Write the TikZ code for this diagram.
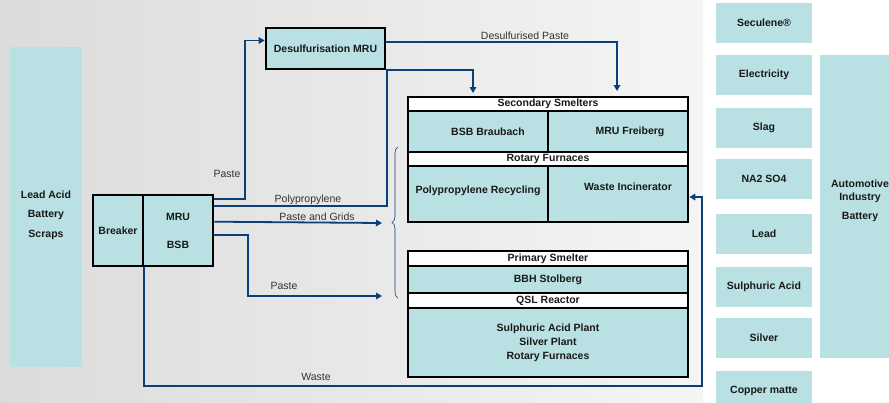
\documentclass[tikz,border=0pt]{standalone}
\usepackage{fontspec}
\setmainfont{Liberation Sans}
\usetikzlibrary{arrows.meta,decorations.pathreplacing}
\definecolor{boxblue}{HTML}{B9E0E3}
\definecolor{flowblue}{HTML}{0B3F78}
\definecolor{labelgray}{HTML}{333333}

\begin{document}
\begin{tikzpicture} [
				x=1pt, y=-1pt,
				every node/.style={inner sep=0pt, text=black!90},
				plant/.style={draw=black, line width=2.6pt, fill=boxblue, font=\fontsize{10.5}{12}\selectfont\bfseries, align=center},
				header/.style={plant, fill=white},
				product/.style={fill=boxblue, font=\fontsize{10.5}{12}\selectfont\bfseries, align=center, minimum width=96pt, minimum height=40pt},
				flow/.style={draw=flowblue, line width=1.8pt, -{Triangle[length=6pt,width=6.5pt]}},
				flowlabel/.style={font=\fontsize{10.5}{12}\selectfont, text=labelgray}
			]
			\useasboundingbox (0,0) rectangle (889,402);
			\shade[left color=black!14, right color=black!4] (0,0) rectangle (703,402);
			\fill[white] (703,0) rectangle (889,402);

			\node[product, minimum width=72pt, minimum height=320pt, text height=62.5pt, font=\fontsize{10.5}{19.5}\selectfont\bfseries] (scraps) at (46,207) {Lead Acid\\Battery\\Scraps};
			\node[plant, minimum width=50pt, minimum height=71pt] (breaker) at (118,230.5) {Breaker};
			\node[plant, minimum width=70pt, minimum height=71pt, font=\fontsize{10.5}{28}\selectfont\bfseries] (mru) at (178,230.5) {MRU\\BSB};
			\node[plant, minimum width=119pt, minimum height=41pt] (desulf) at (325.5,48.5) {Desulfurisation MRU};

			\node[header, minimum width=280pt, minimum height=14pt] (sechead) at (548,104) {Secondary Smelters};
			\node[plant, minimum width=140pt, minimum height=41pt] (braubach) at (478,131.5) {\hspace*{20pt}BSB Braubach};
			\node[plant, minimum width=140pt, minimum height=41pt] (freiberg) at (618,131.5) {\hspace*{24pt}MRU Freiberg};
			\node[header, minimum width=280pt, minimum height=14pt] (rotary) at (548,159) {Rotary Furnaces};
			\node[plant, minimum width=140pt, minimum height=56pt, text depth=9pt] (pprecycle) at (478,194) {Polypropylene Recycling};
			\node[plant, minimum width=140pt, minimum height=56pt, text depth=15pt] (incinerator) at (618,194) {\hspace*{20pt}Waste Incinerator};

			\node[header, minimum width=280pt, minimum height=15pt] (primhead) at (548,258.5) {Primary Smelter};
			\node[plant, minimum width=280pt, minimum height=27pt] (stolberg) at (548,279.5) {BBH Stolberg};
			\node[header, minimum width=280pt, minimum height=15pt] (qsl) at (548,300.5) {QSL Reactor};
			\node[plant, minimum width=280pt, minimum height=69pt, font=\fontsize{10.5}{14}\selectfont\bfseries] (byplants) at (548,342.5) {Sulphuric Acid Plant\\Silver Plant\\Rotary Furnaces};

			\foreach \y/\name/\txt in {23/seculene/Seculene®, 75/electricity/Electricity, 128/slag/Slag, 179/sulfate/NA2 SO4, 234/lead/Lead, 287/acid/Sulphuric Acid, 338/silver/Silver, 391/matte/Copper matte}
				\node[product] (\name) at (764,\y) {\txt};
			\node[product, minimum width=80pt, minimum height=303pt, text depth=14.5pt, font=\fontsize{10.5}{13}\selectfont\bfseries] (automotive) at (860,206.5) {Automotive\\Industry\\[6pt]Battery};

			\draw[flow] ([yshift=-5pt]mru.north east) -- ++(31pt,0) |- ([yshift=8pt]desulf.west);
			\node[flowlabel] (lpaste) at (227,174) {Paste};

			\coordinate (ppend) at (473,93);
			\draw[flow] ([yshift=-12pt]mru.north east) -| (387,70) -| (ppend);
			\node[flowlabel] (lpp) at (308,200) {Polypropylene};

			\coordinate (dpend) at (617,91);
			\draw[flow] ([yshift=6.5pt]desulf.east) -| (dpend);
			\node[flowlabel] (ldp) at (525,36) {Desulfurised Paste};

			\coordinate (pgend) at (382,223);
			\draw[flow] ([yshift=-28pt]mru.north east) -- (pgend);
			\node[flowlabel] (lpg) at (317,217) {Paste and Grids};

			\coordinate (pend) at (382,296);
			\draw[flow] ([yshift=-41pt]mru.north east) -- ++(34pt,0) |- (pend);
			\node[flowlabel] (lpaste2) at (284,286) {Paste};

			\coordinate (wturn) at (702,386);
			\draw[flow] (breaker.south east) |- (wturn) |- ([yshift=-3pt]incinerator.east);
			\node[flowlabel] (lwaste) at (316,377) {Waste};

			\coordinate (bracelow) at (398,298);
			\coordinate (bracehigh) at (398,147);
			\draw[flowblue, line width=0.6pt, decorate, decoration={brace, amplitude=6pt}] (bracelow) -- (bracehigh);
		\end{tikzpicture}
\end{document}
